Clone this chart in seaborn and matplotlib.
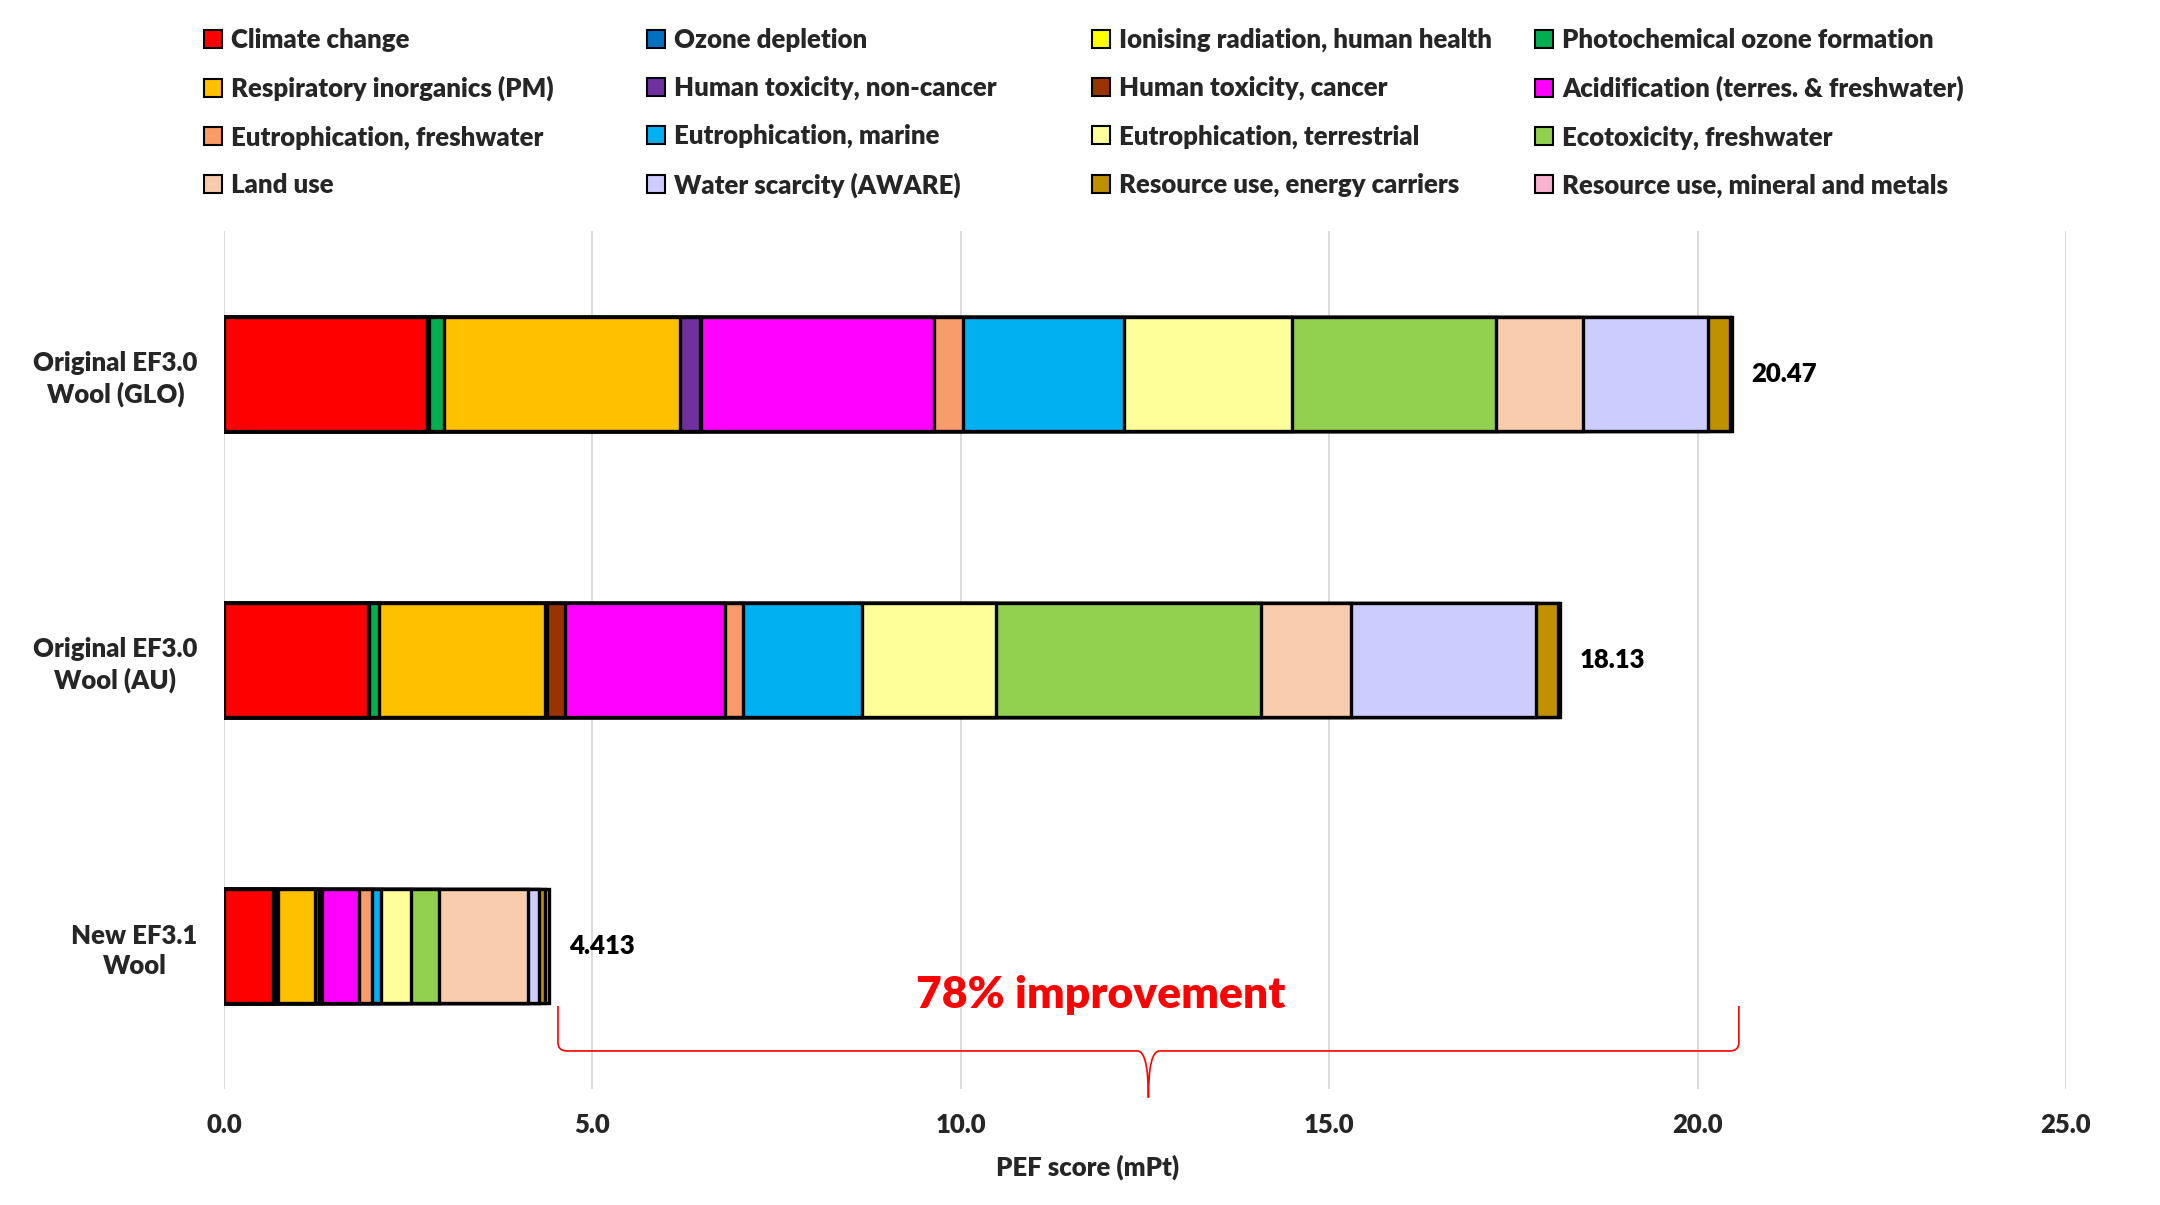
import numpy as np
import pandas as pd
import matplotlib
matplotlib.use("Agg")
import matplotlib.pyplot as plt
from matplotlib.patches import Patch, PathPatch
from matplotlib.path import Path
from matplotlib.ticker import FormatStrFormatter
import seaborn as sns

# ---- data -----------------------------------------------------------------
products = ["Original EF3.0\nWool (GLO)", "Original EF3.0\nWool (AU)", "New EF3.1\nWool"]

impacts = [
    "Climate change", "Ozone depletion",
    "Ionising radiation, human health", "Photochemical ozone formation",
    "Respiratory inorganics (PM)", "Human toxicity, non-cancer",
    "Human toxicity, cancer", "Acidification (terres. & freshwater)",
    "Eutrophication, freshwater", "Eutrophication, marine",
    "Eutrophication, terrestrial", "Ecotoxicity, freshwater",
    "Land use", "Water scarcity (AWARE)",
    "Resource use, energy carriers", "Resource use, mineral and metals",
]

impact_colors = [
    "#FF0000", "#0070C0", "#FFFF00", "#00B050",
    "#FFC000", "#7030A0", "#993300", "#FF00FF",
    "#F79B6B", "#00B0F0", "#FFFF99", "#92D050",
    "#F8CBAD", "#CCCCFF", "#BF9000", "#F9B4D4",
]

# PEF single-score contributions (mPt), in the order of `impacts`
glo_scores = [2.76, 0.01, 0.01, 0.20, 3.21, 0.27, 0.02, 3.15,
              0.40, 2.19, 2.27, 2.78, 1.17, 1.70, 0.30, 0.03]
au_scores = [1.95, 0.01, 0.01, 0.14, 2.25, 0.03, 0.24, 2.17,
             0.24, 1.62, 1.82, 3.59, 1.23, 2.51, 0.29, 0.03]
new_scores = [0.662, 0.008, 0.02, 0.04, 0.50, 0.06, 0.04, 0.50,
              0.18, 0.12, 0.41, 0.38, 1.20, 0.16, 0.07, 0.063]

x_ticks = [0, 5, 10, 15, 20, 25]
x_label = "PEF score (mPt)"

# ---- style ----------------------------------------------------------------
sns.set_style("white")
plt.rcParams["font.family"] = ["Lato", "DejaVu Sans"]
plt.rcParams["font.weight"] = "heavy"
WEIGHT = "heavy"

W, H = 2160, 1205
fig = plt.figure(figsize=(W / 100, H / 100), dpi=100)
ax_left, ax_right, ax_top, ax_bottom = 224, 2066, 231, 1089
ax = fig.add_axes([ax_left / W, 1 - ax_bottom / H,
                   (ax_right - ax_left) / W, (ax_bottom - ax_top) / H])

# ---- stacked bars (cumulative layers, widest drawn first) -----------------
scores = np.array([glo_scores, au_scores, new_scores])
cum = scores.cumsum(axis=1)
df = pd.DataFrame(cum, columns=impacts)
df["product"] = products

for k in reversed(range(len(impacts))):
    sns.barplot(data=df, x=impacts[k], y="product", order=products,
                color=impact_colors[k], saturation=1, width=0.4,
                edgecolor="black", linewidth=2.4, orient="h",
                errorbar=None, ax=ax)

totals = scores.sum(axis=1)
for i, tot in enumerate(totals):
    ax.annotate(f"{tot:.4g}", xy=(tot, i), xytext=(14, 0),
                textcoords="offset points", ha="left", va="center",
                fontsize=18.5, fontweight=WEIGHT, color="black")

# ---- axes -----------------------------------------------------------------
ax.set_xlim(0, 25)
ax.set_ylim(2.5, -0.5)
ax.set_xticks(x_ticks)
ax.xaxis.set_major_formatter(FormatStrFormatter("%.1f"))
ax.set_yticks(range(len(products)))
ax.set_yticklabels(products, ha="right", multialignment="center",
                   linespacing=1.3, fontweight=WEIGHT)
for t in ax.get_xticklabels():
    t.set_fontweight(WEIGHT)
ax.tick_params(axis="x", length=0, pad=17, labelsize=18.5)
ax.tick_params(axis="y", length=0, pad=19, labelsize=18.5)
ax.grid(axis="x", color="#D9D9D9", linewidth=1.3)
ax.grid(axis="y", visible=False)
ax.set_axisbelow(True)
sns.despine(ax=ax, left=True, bottom=True)
ax.set_ylabel("")
ax.set_xlabel(x_label, fontsize=18.5, fontweight=WEIGHT, va="center")
ax.xaxis.set_label_coords(0.469, -0.091)

# ---- improvement brace ----------------------------------------------------
red = "#FF0000"
xl = totals[2] + 0.12
xr = totals[0] + 0.09
xm = (xl + xr) / 2
y_top, y_line, y_tip = 2.21, 2.367, 2.53
rx, ry, tw = 0.12, 0.03, 0.15
verts = [
    (xl, y_top), (xl, y_line - ry),
    (xl, y_line), (xl + rx, y_line),
    (xm - tw, y_line),
    (xm, y_line), (xm, y_tip),
    (xm, y_line), (xm + tw, y_line),
    (xr - rx, y_line),
    (xr, y_line), (xr, y_line - ry),
    (xr, y_top),
]
codes = [Path.MOVETO, Path.LINETO,
         Path.CURVE3, Path.CURVE3,
         Path.LINETO,
         Path.CURVE3, Path.CURVE3,
         Path.CURVE3, Path.CURVE3,
         Path.LINETO,
         Path.CURVE3, Path.CURVE3,
         Path.LINETO]
ax.add_patch(PathPatch(Path(verts, codes), facecolor="none", edgecolor=red,
                       linewidth=1.2, clip_on=False))
pct = (1 - totals[2] / totals[0]) * 100
ax.text(11.9, 2.17, f"{pct:.0f}% improvement", color=red, fontsize=32,
        fontweight=WEIGHT, ha="center", va="center")

# ---- legend: four columns, filled row by row ------------------------------
handles = [Patch(facecolor=c, edgecolor="black", linewidth=1.5)
           for c in impact_colors]
col_x = [204, 647, 1092, 1535]
for c in range(4):
    idx = [r * 4 + c for r in range(4)]
    leg = fig.legend([handles[i] for i in idx], [impacts[i] for i in idx],
                     loc="upper left", bbox_to_anchor=(col_x[c] / W, 1 - 28 / H),
                     frameon=False, fontsize=18.5, handlelength=0.7,
                     handleheight=0.7, handletextpad=0.35, labelspacing=0.93,
                     borderpad=0, borderaxespad=0)
    for t in leg.get_texts():
        t.set_fontweight(WEIGHT)

fig.savefig("out.png", dpi=100, facecolor="white")
